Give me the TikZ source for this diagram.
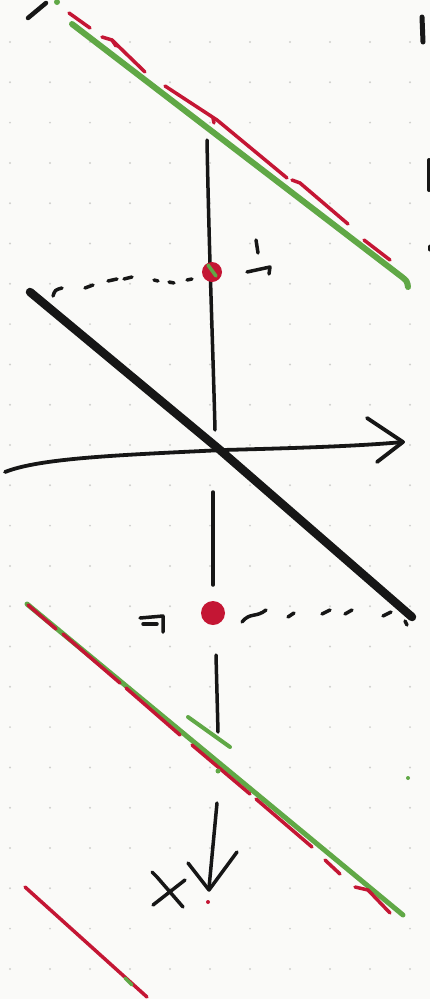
\documentclass[tikz,border=0pt]{standalone}
\definecolor{paper}{RGB}{250,250,248}
\definecolor{ink}{RGB}{22,22,22}
\definecolor{pgreen}{RGB}{96,168,70}
\definecolor{pred}{RGB}{196,22,52}
\definecolor{gdot}{RGB}{208,208,205}
\begin{document}
\begin{tikzpicture}[x=1pt,y=-1pt,line cap=round,line join=round,
  inkline/.style={draw=ink,line width=3.8pt},
  thickink/.style={draw=ink,line width=8.5pt},
  greenline/.style={draw=pgreen,line width=6pt},
  redline/.style={draw=pred,line width=3.5pt},
  dotmark/.style={draw=ink,line width=3.5pt}]
\fill[paper] (0,0) rectangle (430,999);
\useasboundingbox (0,0) rectangle (430,999);
% dot grid
\foreach \j in {0,...,23}{\foreach \i in {0,...,10}{\fill[gdot] (10+40*\i,42+40.3*\j) circle (1.1);}}
% top-left marks
\draw[inkline,line width=4.5pt] (28,18) -- (46,3);
\fill[pgreen] (57,2) circle (3);
% right-edge marks
\draw[draw=ink,line width=5pt] (422,17) -- (423,42);
\draw[draw=ink,line width=4pt] (429,160) -- (429,190);
\draw[draw=ink,line width=3pt] (429,246) -- (429,250);
% top green line with red dashes
\draw[greenline] (72,24) -- (402,277) .. controls (407,281) .. (408,287);
\draw[redline] (69,13) -- (90,28);
\draw[redline] (102,37) -- (112,40) -- (145,72);
\draw[redline] (112,40) -- (116,46);
\draw[redline] (165,86) -- (217,120) -- (287,178);
\draw[redline] (213,118) -- (214,123);
\draw[redline] (292,180) -- (300,183) -- (348,224);
\draw[redline] (364,240) -- (390,260);
% vertical axis
\draw[draw=ink,line width=3.5pt] (207,140) .. controls (209,250) and (213,350) .. (215,430);
\draw[draw=ink,line width=3.5pt] (213,492) -- (213,585);
\draw[draw=ink,line width=3.5pt] (216,655) -- (218,732);
\draw[draw=ink,line width=3.5pt] (217,803) -- (209,888);
\draw[draw=ink,line width=3.5pt] (188,863) -- (209,890) -- (237,852);
% upper red point and label
\coordinate (p1) at (212,272);
\fill[pred] (p1) circle (10);
\draw[draw=pgreen,line width=3.5pt] (208,265) -- (216,276);
\draw[dotmark] (256,240) -- (258,253);
\draw[dotmark] (247,272) -- (270,267) -- (269,274);
% dotted line to left
\draw[dotmark] (53,296) .. controls (55,290) .. (62,288);
\draw[dotmark] (85,288) -- (93,285);
\draw[dotmark] (108,281) -- (117,279);
\draw[dotmark] (124,279) -- (132,277);
\draw[dotmark] (154,280) -- (158,281);
\draw[dotmark] (169,282) -- (174,283);
\draw[dotmark] (187,280) -- (192,279);
% thick diagonal
\draw[thickink] (30,292) -- (220,450) -- (412,617);
% horizontal axis
\draw[inkline] (5,472) .. controls (40,458) and (120,455) .. (223,450) .. controls (300,448) and (360,446) .. (403,442);
\draw[inkline] (367,418) -- (403,442) -- (377,462);
% lower red point and label
\coordinate (p2) at (213,613);
\fill[pred] (p2) circle (12);
\draw[dotmark] (140,618) -- (163,616) -- (163,632);
\draw[dotmark] (143,624) -- (157,624);
% dotted line to right
\draw[dotmark] (242,622) .. controls (250,612) and (256,618) .. (266,610);
\draw[dotmark] (288,617) -- (294,613);
\draw[dotmark] (322,614) -- (330,610);
\draw[dotmark] (345,614) -- (352,610);
\draw[dotmark] (383,616) -- (391,612);
\draw[dotmark] (405,621) -- (407,625);
% lower green/red line
\draw[greenline,line width=5pt] (27,604) -- (403,915);
\draw[redline] (28,605) -- (56,629);
\draw[redline] (63,634) -- (120,683);
\draw[redline] (126,688) -- (180,735);
\draw[redline] (192,745) -- (250,794);
\draw[redline] (256,799) -- (312,847);
\draw[redline] (325,860) -- (340,874);
\draw[redline] (355,887) -- (368,890) -- (390,913);
\draw[draw=pgreen,line width=4pt] (188,717) -- (230,747);
\fill[pgreen] (218,771) circle (2.5);
\fill[pgreen] (408,778) circle (2);
% lower-left red line
\draw[redline,line width=3.5pt] (25,887) -- (147,997);
\draw[draw=pgreen,line width=3.5pt] (125,978) -- (132,985);
% x label
\draw[dotmark] (153,905) -- (185,880);
\draw[dotmark] (152,872) -- (157,877) -- (183,907);
\fill[pred] (208,902) circle (2);
\end{tikzpicture}
\end{document}
